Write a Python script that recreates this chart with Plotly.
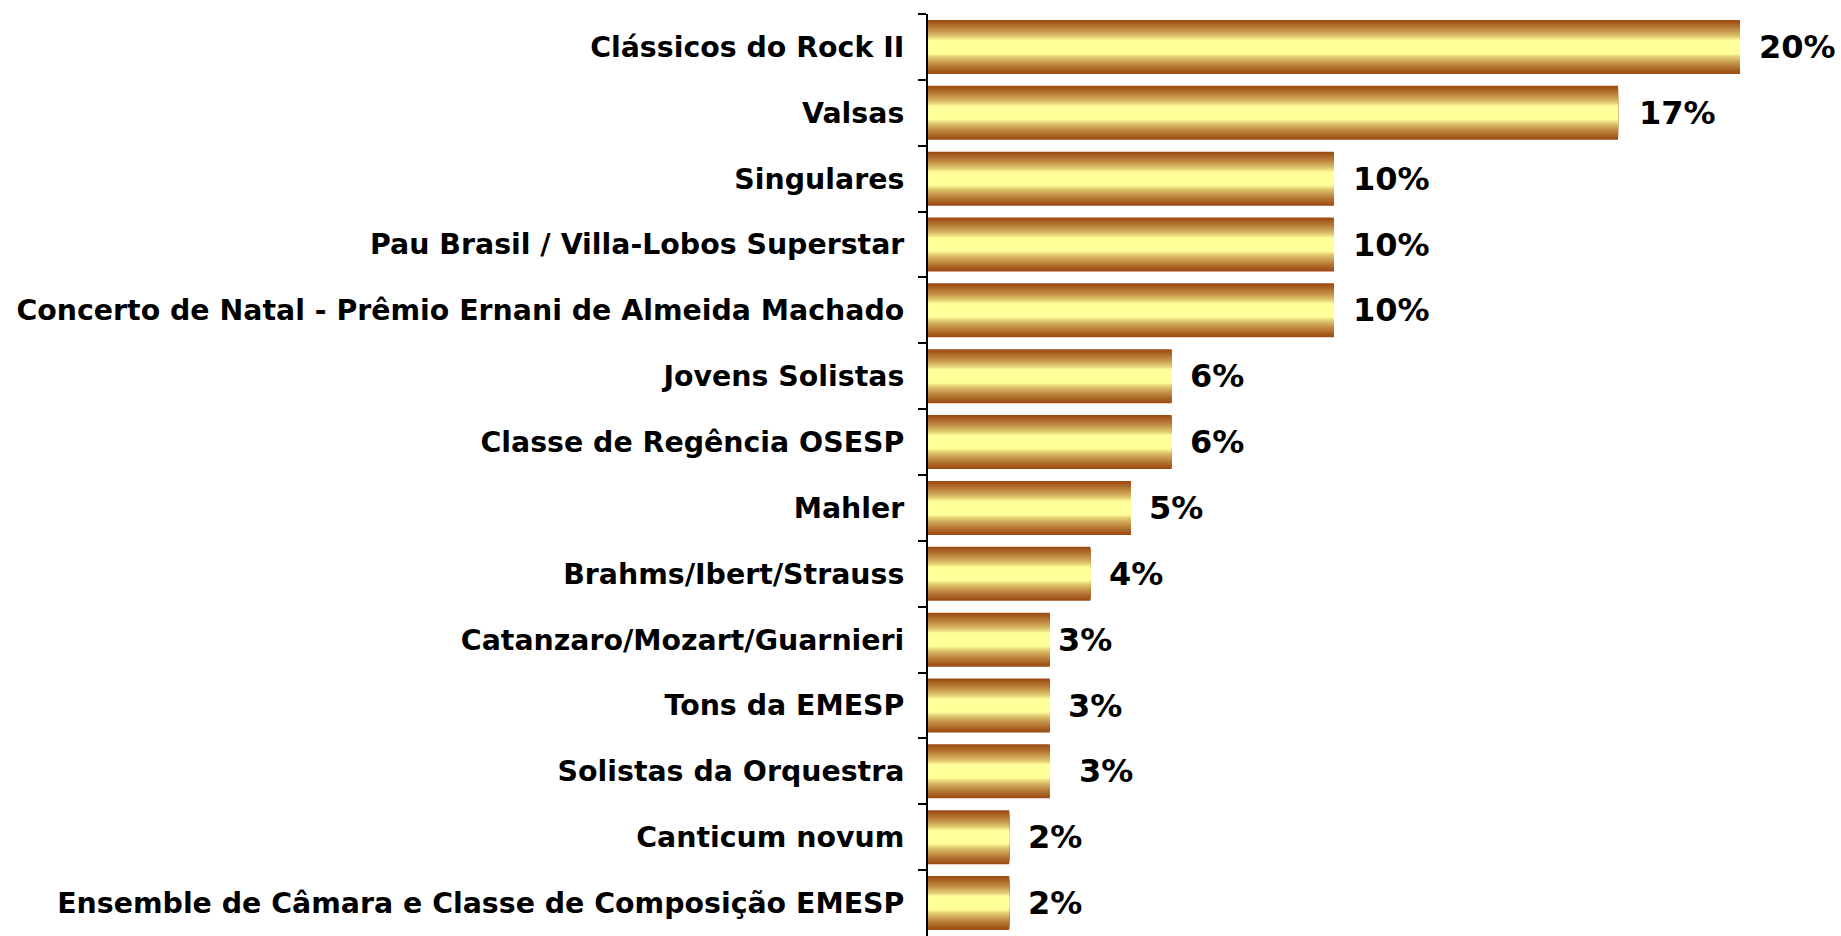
import plotly.graph_objects as go

categories = [
    "Clássicos do Rock II",
    "Valsas",
    "Singulares",
    "Pau Brasil / Villa-Lobos Superstar",
    "Concerto de Natal - Prêmio Ernani de Almeida Machado",
    "Jovens Solistas",
    "Classe de Regência OSESP",
    "Mahler",
    "Brahms/Ibert/Strauss",
    "Catanzaro/Mozart/Guarnieri",
    "Tons da EMESP",
    "Solistas da Orquestra",
    "Canticum novum",
    "Ensemble de Câmara e Classe de Composição EMESP",
]
values = [20, 17, 10, 10, 10, 6, 6, 5, 4, 3, 3, 3, 2, 2]
value_labels = [f"{v}%" for v in values]
# per-label horizontal pixel offset (style)
label_offsets = [17, 19, 17, 17, 17, 16, 16, 16, 17, 6, 16, 27, 17, 17]

EDGE = (156, 74, 18)
CENTER = (255, 255, 153)
N_LAYERS = 30
BAR_WIDTH = 0.82


def mix(t):
    c = [round(CENTER[i] + (EDGE[i] - CENTER[i]) * t) for i in range(3)]
    return f"rgb({c[0]},{c[1]},{c[2]})"


fig = go.Figure()
for k in range(N_LAYERS):
    d = 1 - k / N_LAYERS  # distance from centre (1 = edge)
    t = min(max((d - 0.28) / 0.72, 0.0), 1.0)
    t = t ** 0.7
    fig.add_trace(go.Bar(
        x=values, y=categories, orientation="h",
        width=BAR_WIDTH * d,
        marker=dict(color=mix(t), line=dict(width=0)),
        hoverinfo="skip", showlegend=False,
    ))

font_family = "Verdana, DejaVu Sans"
for v, c, lab, off in zip(values, categories, value_labels, label_offsets):
    fig.add_annotation(
        x=v, y=c, text=lab, showarrow=False, xanchor="left", yanchor="middle",
        xshift=off, font=dict(family=font_family, size=32, color="black", weight="bold"),
    )

fig.update_layout(
    width=1841, height=936,
    barmode="overlay",
    plot_bgcolor="white", paper_bgcolor="white",
    margin=dict(l=928, r=20, t=14, b=0),
    xaxis=dict(range=[0, 22], visible=False, fixedrange=True),
    yaxis=dict(
        autorange="reversed", type="category",
        showline=True, linecolor="black", linewidth=2,
        ticks="outside", ticklen=8, tickcolor="black", tickwidth=2,
        tickson="boundaries", ticklabelstandoff=16,
        tickfont=dict(family=font_family, size=28.4, color="black", weight="bold"),
        showgrid=False, zeroline=False, fixedrange=True,
    ),
    font=dict(family=font_family),
)

fig.write_html(
    "out.html",
    config={"displayModeBar": False},
    post_script="document.body.style.margin='0';document.body.style.overflow='hidden';",
)
